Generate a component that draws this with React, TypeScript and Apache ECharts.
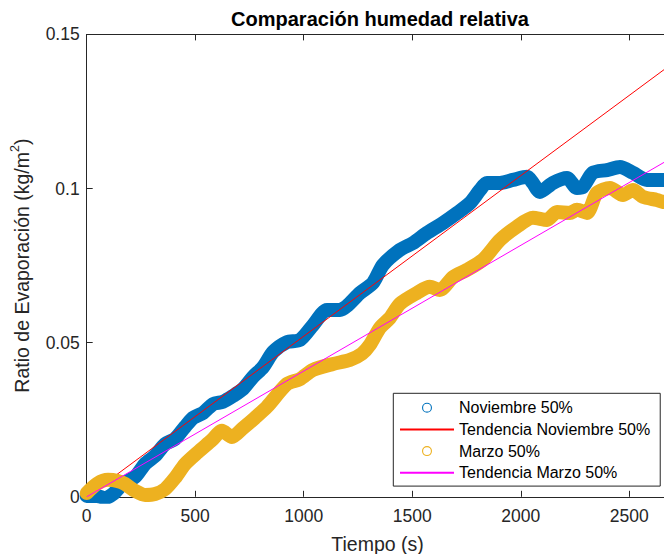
import React, { useEffect, useRef } from "react";
import * as echarts from "echarts";

const xTicks = [0, 500, 1000, 1500, 2000, 2500];
const yTicks = [0, 0.05, 0.1, 0.15];

const seriesNames = [
  "Noviembre 50%",
  "Tendencia Noviembre 50%",
  "Marzo 50%",
  "Tendencia Marzo 50%",
];

// Noviembre 50% (measured, dense markers -> thick band)
const novX = [0, 47, 84, 121, 167, 223, 269, 315, 361, 407, 453, 490, 536, 582, 628, 674, 720, 766, 813, 859, 923, 983, 1043, 1107, 1167, 1199, 1259, 1319, 1365, 1443, 1503, 1568, 1641, 1706, 1766, 1812, 1844, 1904, 1964, 2029, 2056, 2088, 2148, 2213, 2259, 2286, 2332, 2397, 2457, 2517, 2581, 2655, 2680];
const novY = [0.0003, 0.0003, -0.0004, 0.0009, 0.0042, 0.0065, 0.0107, 0.0133, 0.0171, 0.0188, 0.0227, 0.0256, 0.0272, 0.0301, 0.0308, 0.0327, 0.035, 0.0389, 0.0421, 0.047, 0.0502, 0.0509, 0.0557, 0.0606, 0.0606, 0.0619, 0.0661, 0.0694, 0.0752, 0.0801, 0.0823, 0.0856, 0.0888, 0.092, 0.0953, 0.0995, 0.1018, 0.1018, 0.1028, 0.1038, 0.1018, 0.0989, 0.1018, 0.1034, 0.1002, 0.1005, 0.1051, 0.106, 0.107, 0.1051, 0.1028, 0.1028, 0.1025];

// Marzo 50%
const marX = [0, 47, 98, 144, 176, 223, 269, 315, 361, 407, 453, 513, 577, 623, 669, 720, 775, 831, 923, 983, 1043, 1135, 1213, 1268, 1305, 1351, 1397, 1443, 1521, 1581, 1627, 1688, 1752, 1826, 1904, 1982, 2056, 2121, 2167, 2226, 2259, 2305, 2351, 2411, 2471, 2517, 2563, 2627, 2655, 2680];
const marY = [0.0012, 0.0042, 0.0055, 0.0051, 0.0042, 0.0019, 0.0006, 0.0009, 0.0025, 0.0061, 0.0106, 0.0145, 0.0184, 0.0214, 0.0194, 0.0223, 0.0256, 0.0292, 0.0366, 0.0382, 0.0412, 0.0431, 0.0444, 0.0464, 0.0493, 0.0548, 0.058, 0.0626, 0.0661, 0.0681, 0.0671, 0.0713, 0.0736, 0.0769, 0.0833, 0.0876, 0.0905, 0.0898, 0.0924, 0.0921, 0.0931, 0.0921, 0.0986, 0.1002, 0.0979, 0.0995, 0.0973, 0.0963, 0.0957, 0.0955];

// Linear trends
const trendNovX = [0, 2680];
const trendNovY = [0, 0.1396];
const trendMarX = [0, 2680];
const trendMarY = [0, 0.1093];

const X_MAX = 2680;
const FONT = "'Liberation Sans', Arial, Helvetica, sans-serif";
const AXIS = "#262626";
// thin open-circle legend marker (ring drawn as a filled path with a hole)
const RING_ICON =
  "path://M10,0 A10,10 0 1,1 10,20 A10,10 0 1,1 10,0 Z M10,2.2 A7.8,7.8 0 1,0 10,17.8 A7.8,7.8 0 1,0 10,2.2 Z";

const zip = (xs: number[], ys: number[]) => xs.map((x, i) => [x, ys[i]]);

export default function App() {
  const ref = useRef<HTMLDivElement>(null);
  useEffect(() => {
    if (!ref.current) return;
    const chart = echarts.init(ref.current, null, { renderer: "svg" });
    const axisLineStyle = { color: AXIS, width: 1 };
    const option: any = {
      animation: false,
      backgroundColor: "#ffffff",
      textStyle: { fontFamily: FONT },
      title: {
        text: "Comparación humedad relativa",
        left: 380,
        top: 9,
        textAlign: "center",
        padding: 0,
        textStyle: { fontFamily: FONT, fontSize: 20, fontWeight: "bold", color: "#000" },
      },
      grid: { left: 86.7, top: 34.4, right: 664 - (86.7 + 577.3 * X_MAX / 2660), bottom: 57.2, containLabel: false, outerBoundsMode: "none" },
      legend: {
        orient: "vertical",
        left: 393.3,
        top: 393.3,
        padding: [6.4, 10, 5.3, 5.7],
        itemWidth: 54,
        itemHeight: 10,
        itemGap: 5.7,
        backgroundColor: "#ffffff",
        borderColor: AXIS,
        borderWidth: 1,
        borderRadius: 0,
        selectedMode: false,
        textStyle: { fontFamily: FONT, fontSize: 16, color: "#000", lineHeight: 16 },
        data: [
          { name: seriesNames[0], icon: RING_ICON, itemStyle: { color: "#0072BD", borderWidth: 0 } },
          { name: seriesNames[1], itemStyle: { opacity: 0 } },
          { name: seriesNames[2], icon: RING_ICON, itemStyle: { color: "#EDB120", borderWidth: 0 } },
          { name: seriesNames[3], itemStyle: { opacity: 0 } },
        ],
      },
      xAxis: [
        {
          type: "value",
          position: "bottom",
          min: 0,
          max: X_MAX,
          interval: 500,
          axisLine: { show: true, onZero: false, lineStyle: axisLineStyle },
          axisTick: { show: true, inside: true, length: 6, customValues: xTicks, lineStyle: axisLineStyle },
          axisLabel: {
            customValues: xTicks,
            color: AXIS,
            fontSize: 17.5,
            margin: 10,
            fontFamily: FONT,
            formatter: (v: number) => String(v),
          },
          splitLine: { show: false },
          name: "Tiempo (s)",
          nameLocation: "middle",
          nameGap: 37,
          nameTextStyle: { fontSize: 19.5, color: AXIS, fontFamily: FONT },
        },
        {
          type: "value",
          position: "top",
          min: 0,
          max: X_MAX,
          interval: 500,
          axisLine: { show: true, onZero: false, lineStyle: axisLineStyle },
          axisTick: { show: true, inside: true, length: 6, customValues: xTicks, lineStyle: axisLineStyle },
          axisLabel: { show: false },
          splitLine: { show: false },
        },
      ],
      yAxis: {
        type: "value",
        min: 0,
        max: 0.15,
        interval: 0.05,
        axisLine: { show: true, onZero: false, lineStyle: axisLineStyle },
        axisTick: { show: true, inside: true, length: 6, customValues: yTicks, lineStyle: axisLineStyle },
        axisLabel: {
          customValues: yTicks,
          color: AXIS,
          fontSize: 17.5,
          margin: 7,
          fontFamily: FONT,
          formatter: (v: number) => String(v),
        },
        splitLine: { show: false },
        name: "Ratio de Evaporación (kg/m{sup|2})",
        nameLocation: "middle",
        nameGap: 43,
        nameTextStyle: {
          fontSize: 19.5,
          color: AXIS,
          fontFamily: FONT,
          lineHeight: 26,
          rich: {
            sup: { fontSize: 12.5, color: AXIS, fontFamily: FONT, verticalAlign: "top" },
          },
        },
      },
      series: [
        {
          name: seriesNames[0],
          type: "line",
          data: zip(novX, novY),
          symbol: "none",
          smooth: 0.25,
          color: "#0072BD",
          lineStyle: { color: "#0072BD", width: 14, cap: "round", join: "round" },
          z: 2,
        },
        {
          name: seriesNames[1],
          type: "line",
          data: zip(trendNovX, trendNovY),
          symbol: "none",
          color: "#FF0000",
          lineStyle: { color: "#FF0000", width: 1 },
          z: 3,
        },
        {
          name: seriesNames[2],
          type: "line",
          data: zip(marX, marY),
          symbol: "none",
          smooth: 0.25,
          color: "#EDB120",
          lineStyle: { color: "#EDB120", width: 14, cap: "round", join: "round" },
          z: 4,
        },
        {
          name: seriesNames[3],
          type: "line",
          data: zip(trendMarX, trendMarY),
          symbol: "none",
          color: "#FF00FF",
          lineStyle: { color: "#FF00FF", width: 1 },
          z: 5,
        },
      ],
    };
    chart.setOption(option);
    return () => chart.dispose();
  }, []);
  return (
    <div
      ref={ref}
      style={{ position: "absolute", left: 0, top: 0, width: 664, height: 554, background: "#fff" }}
    />
  );
}
